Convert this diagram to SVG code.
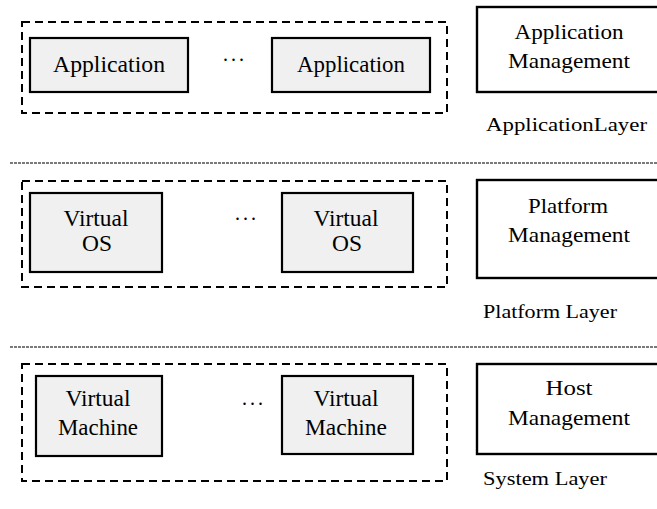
<svg xmlns="http://www.w3.org/2000/svg" width="657" height="509" viewBox="0 0 657 509">
  <style>
    .group { fill: none; stroke: #000; stroke-width: 2; stroke-dasharray: 8 5; }
    .item { fill: #f0f0f0; stroke: #000; stroke-width: 2.2; }
    .mgmt { fill: #fff; stroke: #000; stroke-width: 2.4; }
    .sep { stroke: #7a7a7a; stroke-width: 2; stroke-dasharray: 3 1; }
    text { font-family: "Liberation Serif", "Times New Roman", serif; fill: #000; text-anchor: middle; }
    .big { font-size: 24px; }
    .mid { font-size: 22px; }
    .lbl { font-size: 19px; text-anchor: start; }
    .dots { font-size: 20px; text-anchor: start; }
  </style>

  <!-- layer separators -->
  <g id="separators">
    <line class="sep" x1="10" y1="163" x2="657" y2="163"/>
    <line class="sep" x1="10" y1="347" x2="657" y2="347"/>
  </g>

  <!-- application layer -->
  <g id="app-layer">
    <rect class="group" x="22" y="22" width="425" height="91"/>
    <g id="app1">
      <rect class="item" x="30" y="38" width="158" height="54"/>
      <text class="big" x="109" y="72" textLength="112" lengthAdjust="spacingAndGlyphs">Application</text>
    </g>
    <text class="dots" x="223" y="61" textLength="21" lengthAdjust="spacing">...</text>
    <g id="app2">
      <rect class="item" x="272" y="38" width="158" height="54"/>
      <text class="big" x="351" y="72" textLength="108" lengthAdjust="spacingAndGlyphs">Application</text>
    </g>
  </g>
  <g id="app-mgmt">
    <rect class="mgmt" x="477" y="7" width="190" height="85"/>
    <text class="mid" x="569" y="39" textLength="109" lengthAdjust="spacingAndGlyphs">Application</text>
    <text class="mid" x="569" y="68" textLength="122" lengthAdjust="spacingAndGlyphs">Management</text>
  </g>
  <text class="lbl" x="486" y="131" textLength="161" lengthAdjust="spacingAndGlyphs">ApplicationLayer</text>

  <!-- platform layer -->
  <g id="platform-layer">
    <rect class="group" x="22" y="181" width="425" height="106"/>
    <g id="os1">
      <rect class="item" x="30" y="193" width="132" height="79"/>
      <text class="big" x="96" y="226" textLength="65" lengthAdjust="spacingAndGlyphs">Virtual</text>
      <text class="big" x="97" y="251" textLength="30" lengthAdjust="spacingAndGlyphs">OS</text>
    </g>
    <text class="dots" x="235" y="220" textLength="21" lengthAdjust="spacing">...</text>
    <g id="os2">
      <rect class="item" x="282" y="193" width="131" height="79"/>
      <text class="big" x="346" y="226" textLength="65" lengthAdjust="spacingAndGlyphs">Virtual</text>
      <text class="big" x="347" y="251" textLength="30" lengthAdjust="spacingAndGlyphs">OS</text>
    </g>
  </g>
  <g id="platform-mgmt">
    <rect class="mgmt" x="477" y="180" width="190" height="98"/>
    <text class="mid" x="568" y="213" textLength="80" lengthAdjust="spacingAndGlyphs">Platform</text>
    <text class="mid" x="569" y="242" textLength="122" lengthAdjust="spacingAndGlyphs">Management</text>
  </g>
  <text class="lbl" x="483" y="318" textLength="134" lengthAdjust="spacingAndGlyphs">Platform Layer</text>

  <!-- system layer -->
  <g id="system-layer">
    <rect class="group" x="22" y="364" width="425" height="117"/>
    <g id="vm1">
      <rect class="item" x="36" y="376" width="126" height="80"/>
      <text class="big" x="98" y="406" textLength="65" lengthAdjust="spacingAndGlyphs">Virtual</text>
      <text class="big" x="98" y="435" textLength="80" lengthAdjust="spacingAndGlyphs">Machine</text>
    </g>
    <text class="dots" x="242" y="405" textLength="21" lengthAdjust="spacing">...</text>
    <g id="vm2">
      <rect class="item" x="282" y="376" width="131" height="78"/>
      <text class="big" x="346" y="406" textLength="65" lengthAdjust="spacingAndGlyphs">Virtual</text>
      <text class="big" x="346" y="435" textLength="82" lengthAdjust="spacingAndGlyphs">Machine</text>
    </g>
  </g>
  <g id="host-mgmt">
    <rect class="mgmt" x="477" y="364" width="190" height="90"/>
    <text class="mid" x="569" y="395" textLength="47" lengthAdjust="spacingAndGlyphs">Host</text>
    <text class="mid" x="569" y="425" textLength="122" lengthAdjust="spacingAndGlyphs">Management</text>
  </g>
  <text class="lbl" x="483" y="485" textLength="124" lengthAdjust="spacingAndGlyphs">System Layer</text>
</svg>
